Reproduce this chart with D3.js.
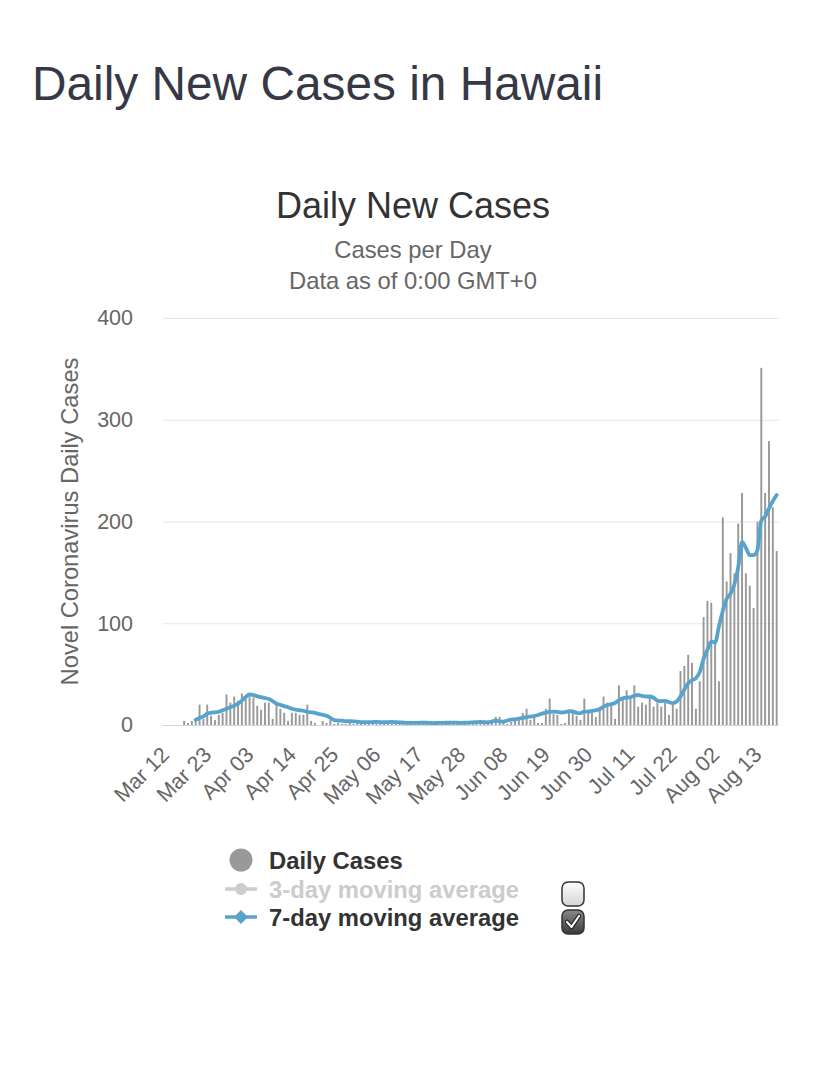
<!DOCTYPE html>
<html>
<head>
<meta charset="utf-8">
<script src="https://cdn.jsdelivr.net/npm/d3@7"></script>
<style>
  body { margin: 0; background: #fff; }
  svg { font-family: "Liberation Sans", Arial, Helvetica, sans-serif; }
</style>
</head>
<body>
<svg id="chart" width="828" height="1079"></svg>
<script>
// daily values, one per day starting Mar 12
const firstDay = new Date(2020, 2, 12);
const dailyCases = [
  0, 0, 0, 0, 0, 4, 2, 4, 6, 20,
  6, 20, 9, 5, 10, 12, 30, 22, 28, 24,
  31, 26, 28, 27, 19, 15, 22, 22, 6, 20,
  16, 12, 4, 12, 12, 10, 10, 20, 4, 2,
  0, 4, 2, 5, 1, 2, 1, 1, 2, 1,
  3, 1, 2, 1, 2, 1, 3, 2, 1, 1,
  2, 3, 1, 2, 1, 2, 1, 2, 1, 1,
  2, 2, 3, 1, 2, 3, 1, 2, 1, 2,
  2, 3, 2, 3, 2, 3, 8, 8, 2, 1,
  3, 4, 6, 12, 16, 5, 7, 2, 2, 16,
  26, 11, 10, 1, 2, 13, 13, 9, 5, 26,
  14, 12, 8, 18, 28, 22, 22, 6, 39, 25,
  34, 27, 39, 18, 22, 20, 27, 18, 22, 18,
  22, 10, 22, 16, 53, 58, 69, 61, 16, 43,
  106, 122, 120, 80, 43, 204, 141, 169, 149, 198,
  228, 149, 137, 115, 200, 351, 228, 279, 214, 171
];
const movingAvg7 = [
  null, null, null, null, null, null, null, null,
  5.2, 6.8, 8.5, 11, 12, 12.5, 13, 14.5, 16, 17.5,
  19, 21, 24, 27.5, 30, 29.3, 28.3, 27.3, 26.5, 25.5,
  23.5, 21, 19.8, 18.5, 17.5, 16, 15, 14.5, 14, 13,
  12.5, 12, 10.8, 10, 9, 7, 4.8, 4.4, 4.2, 3.8,
  3.7, 3.6, 3.4, 2.8, 2.7, 2.8, 2.9, 3, 2.9, 2.7,
  2.9, 3, 2.8, 2.6, 2.3, 2.1, 2, 2, 2.1, 2.3,
  2.2, 2, 1.9, 2, 2.1, 2.2, 2.2, 2.3, 2.2, 2.1,
  2.2, 2.4, 2.6, 2.8, 3, 2.8, 2.6, 3.5, 4.4, 3.5,
  3.3, 4.4, 5.2, 5.6, 6.3, 7, 7.8, 8.3, 8.8, 9.8,
  11.2, 12.2, 12.9, 13.2, 13, 12.2, 12.6, 13.7, 13.3, 12,
  11.6, 13.2, 13.2, 14, 14.5, 15.6, 18, 19.6, 20.5, 21.6,
  24.5, 26.3, 27, 27.2, 28.8, 29.5, 28.6, 28, 28, 26.8,
  24, 23.4, 23.8, 22.4, 21.5, 23, 28, 35, 41, 44,
  46, 52, 65, 74, 82, 81, 97, 112, 124, 129,
  138, 155, 180, 174, 167, 167, 172, 201, 205, 213, 220, 226
];
const tickLabels = ['Mar 12', 'Mar 23', 'Apr 03', 'Apr 14', 'Apr 25', 'May 06', 'May 17',
  'May 28', 'Jun 08', 'Jun 19', 'Jun 30', 'Jul 11', 'Jul 22', 'Aug 02', 'Aug 13'];
const yTicks = [0, 100, 200, 300, 400];
const legendLabels = ['Daily Cases', '3-day moving average', '7-day moving average'];

const svg = d3.select('#chart');
const fmt = d3.timeFormat('%b %d');
const days = dailyCases.map((v, i) => fmt(d3.timeDay.offset(firstDay, i)));

const plotLeft = 163, plotRight = 778.6, plotTop = 318, plotBottom = 725;
const barColor = '#999999';
const lineColor = '#58a3cb';

const x = d3.scaleBand().domain(days).range([plotLeft, plotRight])
  .paddingInner(0.5).paddingOuter(0.25);
const y = d3.scaleLinear().domain([0, 400]).range([plotBottom, plotTop]);
const cx = d => x(d) + x.bandwidth() / 2;

// titles
svg.append('text').attr('x', 32).attr('y', 100)
  .attr('font-size', 47.8).attr('fill', '#363945')
  .text('Daily New Cases in Hawaii');
svg.append('text').attr('x', 413).attr('y', 218).attr('text-anchor', 'middle')
  .attr('font-size', 36).attr('fill', '#333333').text('Daily New Cases');
svg.append('text').attr('x', 413).attr('y', 258).attr('text-anchor', 'middle')
  .attr('font-size', 23.8).attr('fill', '#666666').text('Cases per Day');
svg.append('text').attr('x', 413).attr('y', 289).attr('text-anchor', 'middle')
  .attr('font-size', 23.8).attr('fill', '#666666').text('Data as of 0:00 GMT+0');

// y grid + labels
const yAxis = d3.axisLeft(y).tickValues(yTicks).tickSize(-(plotRight - plotLeft)).tickPadding(30);
const yg = svg.append('g').attr('transform', `translate(${plotLeft},0)`).call(yAxis);
yg.select('.domain').remove();
yg.selectAll('line').attr('stroke', '#e6e6e6');
yg.selectAll('text').attr('font-size', 21.5).attr('fill', '#666666')
  .attr('font-family', '"Liberation Sans", Arial, sans-serif');

svg.append('text')
  .attr('transform', `translate(78,${(plotTop + plotBottom) / 2}) rotate(-90)`)
  .attr('text-anchor', 'middle').attr('font-size', 23.7).attr('fill', '#666666')
  .text('Novel Coronavirus Daily Cases');

// x axis
const xAxis = d3.axisBottom(x).tickValues(tickLabels).tickSize(0);
const xg = svg.append('g').attr('transform', `translate(0,${plotBottom})`).call(xAxis);
xg.select('.domain').attr('stroke', '#ccd6eb').attr('d', `M${plotLeft},0.5H${plotRight}`);
xg.selectAll('text')
  .attr('y', 0).attr('dy', null).attr('x', 0)
  .attr('text-anchor', 'end')
  .attr('transform', 'translate(5.5,31) rotate(-45)')
  .attr('font-size', 21.5).attr('fill', '#666666')
  .attr('font-family', '"Liberation Sans", Arial, sans-serif');

// bars
svg.append('g').selectAll('rect')
  .data(dailyCases.map((v, i) => ({ day: days[i], v })))
  .join('rect')
  .attr('x', d => x(d.day))
  .attr('width', x.bandwidth())
  .attr('y', d => y(d.v))
  .attr('height', d => y(0) - y(d.v))
  .attr('fill', barColor);

// 7-day moving average
const line = d3.line()
  .defined(d => d.v !== null)
  .x(d => cx(d.day))
  .y(d => y(d.v))
  .curve(d3.curveMonotoneX);
svg.append('path')
  .datum(movingAvg7.map((v, i) => ({ day: days[i], v })))
  .attr('d', line)
  .attr('fill', 'none').attr('stroke', lineColor)
  .attr('stroke-width', 3.8).attr('stroke-linejoin', 'round').attr('stroke-linecap', 'round');

// legend
const lg = svg.append('g').attr('font-weight', 'bold').attr('font-size', 23.8);
const lx = 241, ly = [860, 889, 917];
lg.append('circle').attr('cx', lx).attr('cy', ly[0]).attr('r', 11.5).attr('fill', barColor);
lg.append('line').attr('x1', lx - 16).attr('x2', lx + 16).attr('y1', ly[1]).attr('y2', ly[1])
  .attr('stroke', '#cccccc').attr('stroke-width', 3.5);
lg.append('circle').attr('cx', lx).attr('cy', ly[1]).attr('r', 6).attr('fill', '#cccccc');
lg.append('line').attr('x1', lx - 16).attr('x2', lx + 16).attr('y1', ly[2]).attr('y2', ly[2])
  .attr('stroke', lineColor).attr('stroke-width', 3.5);
lg.append('path').attr('d', `M${lx},${ly[2] - 7}L${lx + 7},${ly[2]}L${lx},${ly[2] + 7}L${lx - 7},${ly[2]}Z`)
  .attr('fill', lineColor);
lg.selectAll('text.item').data(legendLabels).join('text')
  .attr('class', 'item')
  .attr('x', 269).attr('y', (d, i) => ly[i] + 8.5)
  .attr('fill', (d, i) => i === 1 ? '#cccccc' : '#333333')
  .text(d => d);

// checkboxes
const defs = svg.append('defs');
const g1 = defs.append('linearGradient').attr('id', 'boxOff').attr('x1', 0).attr('y1', 0).attr('x2', 0).attr('y2', 1);
g1.append('stop').attr('offset', '0%').attr('stop-color', '#ffffff');
g1.append('stop').attr('offset', '100%').attr('stop-color', '#d4d4d4');
const g2 = defs.append('linearGradient').attr('id', 'boxOn').attr('x1', 0).attr('y1', 0).attr('x2', 0).attr('y2', 1);
g2.append('stop').attr('offset', '0%').attr('stop-color', '#8a8a8a');
g2.append('stop').attr('offset', '100%').attr('stop-color', '#3a3a3a');

const boxes = [{ cy: 894, on: false }, { cy: 922, on: true }];
boxes.forEach(b => {
  svg.append('rect').attr('x', 562).attr('y', b.cy - 12).attr('width', 22).attr('height', 24)
    .attr('rx', 6).attr('fill', b.on ? 'url(#boxOn)' : 'url(#boxOff)')
    .attr('stroke', '#333333').attr('stroke-width', 1.5);
  if (b.on) {
    const p = `M567,${b.cy} L571.5,${b.cy + 5} L579,${b.cy - 6}`;
    svg.append('path').attr('d', p).attr('fill', 'none').attr('stroke', '#222')
      .attr('stroke-width', 4.5).attr('stroke-linecap', 'round').attr('stroke-linejoin', 'round');
    svg.append('path').attr('d', p).attr('fill', 'none').attr('stroke', '#fff')
      .attr('stroke-width', 2.2).attr('stroke-linecap', 'round').attr('stroke-linejoin', 'round');
  }
});
</script>
</body>
</html>
